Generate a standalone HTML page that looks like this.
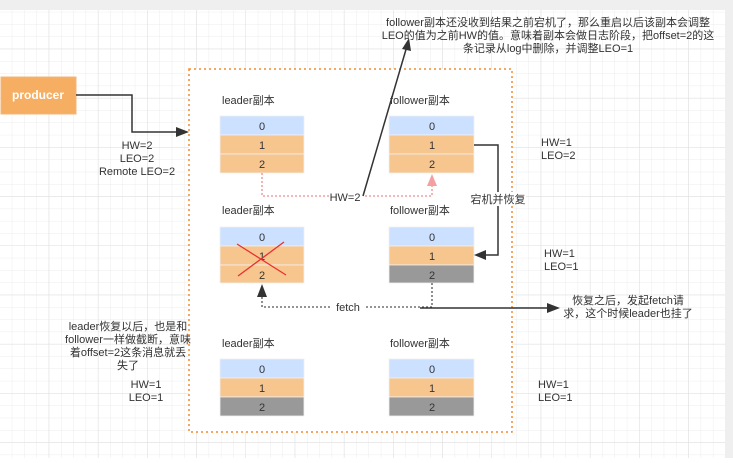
<!DOCTYPE html>
<html><head><meta charset="utf-8"><style>
body{margin:0;width:733px;height:458px;overflow:hidden;background:#fff;font-family:"Liberation Sans","Noto Sans CJK SC",sans-serif;}
</style></head><body>
<svg width="733" height="458" xmlns="http://www.w3.org/2000/svg" font-family="Liberation Sans, Noto Sans CJK SC, sans-serif" font-size="11" fill="#333">
<defs>
<pattern id="g" width="12.3" height="12.3" patternUnits="userSpaceOnUse"><path d="M12.3 0V12.3H0" fill="none" stroke="#ececec" stroke-width="1"/></pattern>
<pattern id="G" width="49.2" height="49.2" patternUnits="userSpaceOnUse"><path d="M49.2 0V49.2H0" fill="none" stroke="#dedede" stroke-width="1"/></pattern>
</defs>
<rect x="0" y="10" width="725" height="448" fill="url(#g)"/>
<rect x="0" y="10" width="725" height="448" fill="url(#G)"/>
<rect x="0" y="0" width="733" height="10" fill="#efefef"/>
<rect x="725" y="0" width="8" height="458" fill="#efefef"/>
<rect x="189" y="69" width="323" height="363" fill="#fff" stroke="#f58a2c" stroke-width="1.5" stroke-dasharray="2,3"/>
<rect x="1" y="77" width="75" height="37" fill="#f5ae62" stroke="#f3b67a"/>
<text x="38" y="99" text-anchor="middle" fill="#fff" font-size="12" font-weight="bold">producer</text>
<polyline points="76,95 132,95 132,132 183,132" fill="none" stroke="#333" stroke-width="1.5"/>
<polygon points="189,132 176,127 176,137" fill="#333"/>
<g text-anchor="middle" font-size="11"><text x="137" y="149">HW=2</text><text x="137" y="162">LEO=2</text><text x="137" y="175">Remote LEO=2</text></g>
<g font-size="11">
<text x="222" y="104">leader副本</text><text x="390" y="104">follower副本</text>
<text x="222" y="214">leader副本</text><text x="390" y="214">follower副本</text>
<text x="222" y="347">leader副本</text><text x="390" y="347">follower副本</text>
</g>
<g stroke="#f0f0f0" stroke-width="0.8" text-anchor="middle" font-size="11">
<rect x="220" y="116" width="84" height="19" fill="#cce0ff"/><rect x="220" y="135" width="84" height="19" fill="#f7c68f"/><rect x="220" y="154" width="84" height="19" fill="#f7c68f"/>
<rect x="389" y="116" width="85" height="19" fill="#cce0ff"/><rect x="389" y="135" width="85" height="19" fill="#f7c68f"/><rect x="389" y="154" width="85" height="19" fill="#f7c68f"/>
<rect x="220" y="227" width="84" height="19" fill="#cce0ff"/><rect x="220" y="246" width="84" height="19" fill="#f7c68f"/><rect x="220" y="265" width="84" height="18" fill="#f7c68f"/>
<rect x="389" y="227" width="85" height="19" fill="#cce0ff"/><rect x="389" y="246" width="85" height="19" fill="#f7c68f"/><rect x="389" y="265" width="85" height="18" fill="#999"/>
<rect x="220" y="359" width="84" height="19" fill="#cce0ff"/><rect x="220" y="378" width="84" height="19" fill="#f7c68f"/><rect x="220" y="397" width="84" height="19" fill="#999"/>
<rect x="389" y="359" width="85" height="19" fill="#cce0ff"/><rect x="389" y="378" width="85" height="19" fill="#f7c68f"/><rect x="389" y="397" width="85" height="19" fill="#999"/>
</g>
<g text-anchor="middle" font-size="11">
<text x="262" y="130">0</text><text x="262" y="149">1</text><text x="262" y="168">2</text>
<text x="432" y="130">0</text><text x="432" y="149">1</text><text x="432" y="168">2</text>
<text x="262" y="241">0</text><text x="262" y="260">1</text><text x="262" y="279">2</text>
<text x="432" y="241">0</text><text x="432" y="260">1</text><text x="432" y="279">2</text>
<text x="262" y="373">0</text><text x="262" y="392">1</text><text x="262" y="411">2</text>
<text x="432" y="373">0</text><text x="432" y="392">1</text><text x="432" y="411">2</text>
</g>
<line x1="237" y1="244" x2="286" y2="275" stroke="#e83030" stroke-width="1.3"/>
<line x1="238" y1="276" x2="284" y2="242" stroke="#e83030" stroke-width="1.3"/>
<polyline points="262,173 262,196 330,196" fill="none" stroke="#f08a8a" stroke-width="1.3" stroke-dasharray="2,2"/>
<polyline points="365,196 432,196 432,184" fill="none" stroke="#f08a8a" stroke-width="1.3" stroke-dasharray="2,2"/>
<polygon points="432,174 427,186 437,186" fill="#f4a0a0"/>
<text x="345" y="201" text-anchor="middle">HW=2</text>
<line x1="363" y1="196" x2="407" y2="46" stroke="#333" stroke-width="1.5"/>
<polygon points="409,38 402,49 411,51" fill="#333"/>
<g text-anchor="middle" font-size="11"><text x="548" y="26">follower副本还没收到结果之前宕机了，那么重启以后该副本会调整</text><text x="548" y="39">LEO的值为之前HW的值。意味着副本会做日志阶段，把offset=2的这</text><text x="548" y="52">条记录从log中删除，并调整LEO=1</text></g>
<text x="541" y="146">HW=1</text><text x="541" y="159">LEO=2</text>
<polyline points="474,145 498,145 498,255 481,255" fill="none" stroke="#333" stroke-width="1.5"/>
<polygon points="474,255 486,250 486,260" fill="#333"/>
<rect x="470" y="192" width="56" height="14" fill="#fff"/>
<text x="498" y="203" text-anchor="middle">宕机并恢复</text>
<text x="544" y="257">HW=1</text><text x="544" y="270">LEO=1</text>
<polyline points="432,283 432,307 366,307" fill="none" stroke="#555" stroke-width="1.3" stroke-dasharray="2,2"/>
<polyline points="330,307 262,307 262,295" fill="none" stroke="#555" stroke-width="1.3" stroke-dasharray="2,2"/>
<polygon points="262,284 257,297 267,297" fill="#333"/>
<text x="348" y="311" text-anchor="middle">fetch</text>
<line x1="420" y1="308" x2="552" y2="308" stroke="#333" stroke-width="1.5"/>
<polygon points="560,308 547,303 547,313" fill="#333"/>
<g text-anchor="middle"><text x="628" y="304">恢复之后，发起fetch请</text><text x="628" y="317">求，这个时候leader也挂了</text></g>
<g text-anchor="middle"><text x="128" y="330">leader恢复以后，也是和</text><text x="128" y="343">follower一样做截断，意味</text><text x="128" y="356">着offset=2这条消息就丢</text><text x="128" y="369">失了</text><text x="146" y="388">HW=1</text><text x="146" y="401">LEO=1</text></g>
<text x="538" y="388">HW=1</text><text x="538" y="401">LEO=1</text>
</svg>
</body></html>
